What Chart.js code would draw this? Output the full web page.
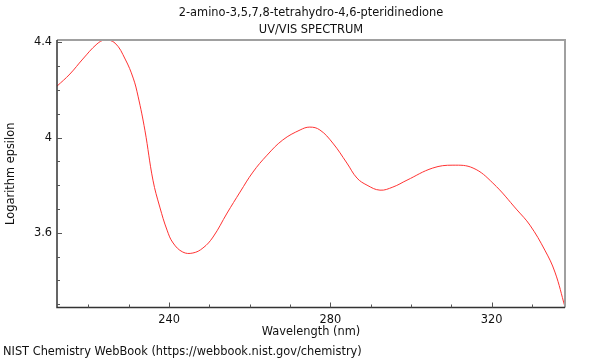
<!DOCTYPE html>
<html>
<head>
<meta charset="utf-8">
<script src="https://cdn.jsdelivr.net/npm/chart.js@4/dist/chart.umd.min.js"></script>
<style>
  html, body { margin: 0; padding: 0; background: #fff; }
  #wrap { width: 600px; height: 360px; }
</style>
</head>
<body>
<div id="wrap"><canvas id="myChart"></canvas></div>
<script>
// spectrum
const wavelengths = [212.2, 215.4, 218.6, 222.1, 224.1, 226.6, 229.1, 231.1, 232.3, 234, 236, 237.7, 239.5, 241, 243.4, 245.9, 248.4, 250.9, 254.4, 257.6, 260.8, 264.3, 268.2, 272.5, 274.9, 277.4, 280.6, 284.1, 286.6, 289.1, 292.3, 295.5, 299, 305.4, 310.4, 315.4, 320.3, 326.3, 329.5, 333.2, 335.7, 338.2];
const logEpsilon = [4.216, 4.267, 4.33, 4.393, 4.41, 4.397, 4.33, 4.25, 4.174, 4.031, 3.821, 3.708, 3.611, 3.557, 3.519, 3.515, 3.536, 3.582, 3.683, 3.771, 3.855, 3.926, 3.99, 4.032, 4.044, 4.032, 3.977, 3.893, 3.83, 3.8, 3.779, 3.792, 3.821, 3.872, 3.884, 3.872, 3.809, 3.696, 3.632, 3.527, 3.435, 3.288];
const xTickLabels = [240, 280, 320];
const xMinorTicks = [220, 230, 250, 260, 270, 290, 300, 310, 330];
const yTickLabels = [3.6, 4, 4.4];
const yMinorTicks = [3.3, 3.4, 3.5, 3.7, 3.8, 3.9, 4.1, 4.2, 4.3];
const titleLines = ['2-amino-3,5,7,8-tetrahydro-4,6-pteridinedione', 'UV/VIS SPECTRUM'];
const xTitle = 'Wavelength (nm)';
const yTitle = 'Logarithm epsilon';
const footer = 'NIST Chemistry WebBook (https://webbook.nist.gov/chemistry)';

const FONT = '11.4px "DejaVu Sans"';
const points = wavelengths.map((w, i) => ({ x: w, y: logEpsilon[i] }));

const framePlugin = {
    id: 'frame',
    afterDraw(chart) {
        const ctx = chart.ctx;
        const a = chart.chartArea;
        const xs = chart.scales.x;
        const ys = chart.scales.y;
        ctx.save();
        // top and right edges
        ctx.strokeStyle = '#a0a0a0';
        ctx.lineWidth = 2;
        ctx.beginPath();
        ctx.moveTo(a.left, a.top);
        ctx.lineTo(a.right, a.top);
        ctx.lineTo(a.right, a.bottom);
        ctx.stroke();
        // left and bottom axes
        ctx.strokeStyle = '#333';
        ctx.lineWidth = 1.5;
        ctx.beginPath();
        ctx.moveTo(a.left, a.top);
        ctx.lineTo(a.left, a.bottom);
        ctx.lineTo(a.right, a.bottom);
        ctx.stroke();
        // inward ticks
        ctx.lineWidth = 1;
        ctx.strokeStyle = '#555';
        ctx.beginPath();
        xTickLabels.forEach(v => {
            const px = Math.round(xs.getPixelForValue(v)) + 0.5;
            ctx.moveTo(px, a.bottom); ctx.lineTo(px, a.bottom - 5);
        });
        xMinorTicks.forEach(v => {
            const px = Math.round(xs.getPixelForValue(v)) + 0.5;
            ctx.moveTo(px, a.bottom); ctx.lineTo(px, a.bottom - 3);
        });
        yTickLabels.forEach(v => {
            const py = Math.round(ys.getPixelForValue(v)) + 0.5;
            ctx.moveTo(a.left, py); ctx.lineTo(a.left + 5, py);
        });
        yMinorTicks.forEach(v => {
            const py = Math.round(ys.getPixelForValue(v)) + 0.5;
            ctx.moveTo(a.left, py); ctx.lineTo(a.left + 3, py);
        });
        ctx.stroke();
        // texts
        const cx = (a.left + a.right) / 2;
        ctx.fillStyle = '#111';
        ctx.font = FONT;
        ctx.textAlign = 'center';
        ctx.textBaseline = 'middle';
        ctx.fillText(titleLines[0], cx, 13);
        ctx.fillText(titleLines[1], cx, 30);
        ctx.fillText(xTitle, cx, 332);
        ctx.textAlign = 'left';
        ctx.fillText(footer, 3, 352);
        ctx.save();
        ctx.translate(11, (a.top + a.bottom) / 2);
        ctx.rotate(-Math.PI / 2);
        ctx.textAlign = 'center';
        ctx.fillText(yTitle, 0, 0);
        ctx.restore();
        ctx.restore();
    }
};

const ctx = document.getElementById('myChart');
new Chart(ctx, {
    type: 'line',
    data: {
        datasets: [{
            data: points,
            borderColor: '#ff3333',
            borderWidth: 1,
            pointRadius: 0,
            tension: 0.4,
            fill: false
        }]
    },
    options: {
        responsive: true,
        maintainAspectRatio: false,
        animation: false,
        layout: { padding: { left: 0, top: 40, right: 35, bottom: 0 } },
        plugins: {
            legend: { display: false },
            tooltip: { enabled: false }
        },
        scales: {
            x: {
                type: 'linear',
                min: 212.2,
                max: 338.2,
                grid: { display: false, drawTicks: false },
                border: { display: false },
                afterBuildTicks: s => { s.ticks = xTickLabels.map(v => ({ value: v })); },
                afterFit: s => { s.height = 52.5; },
                ticks: {
                    color: '#111',
                    font: { family: 'DejaVu Sans', size: 11.4 },
                    padding: 6,
                    maxRotation: 0,
                    callback: v => String(v)
                }
            },
            y: {
                type: 'linear',
                min: 3.286,
                max: 4.41,
                grid: { display: false, drawTicks: false },
                border: { display: false },
                afterBuildTicks: s => { s.ticks = yTickLabels.map(v => ({ value: v })); },
                afterFit: s => { s.width = 57; },
                ticks: {
                    color: '#111',
                    font: { family: 'DejaVu Sans', size: 11.4 },
                    padding: 5,
                    callback: v => String(v)
                }
            }
        }
    },
    plugins: [framePlugin]
});
</script>
</body>
</html>
